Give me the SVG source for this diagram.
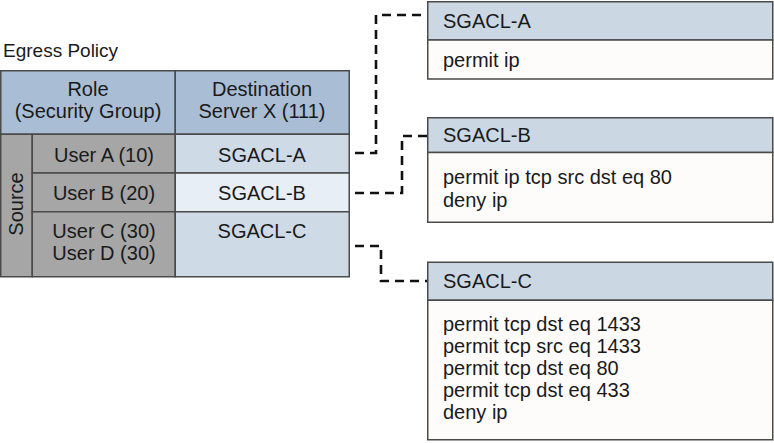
<svg xmlns="http://www.w3.org/2000/svg" width="774" height="443" viewBox="0 0 774 443">
<style>
text{font-family:"Liberation Sans",Arial,sans-serif;font-size:20px;fill:#1a1a1a}
.c{text-anchor:middle}
.b{stroke:#4a4a4a;stroke-width:1.5}
.conn{fill:none;stroke:#111;stroke-width:2.6;stroke-dasharray:9 6}
</style>
<rect width="774" height="443" fill="#fff"/>
<g id="table">
<text x="3" y="57" style="font-size:19px">Egress Policy</text>
<rect class="b" x="0.75" y="70.75" width="174.5" height="63.5" fill="#a9bed5"/>
<rect class="b" x="175.25" y="70.75" width="174" height="63.5" fill="#a9bed5"/>
<rect class="b" x="0.75" y="134.25" width="31.5" height="142.5" fill="#a6a6a6"/>
<rect class="b" x="32.25" y="134.25" width="143" height="38.75" fill="#a6a6a6"/>
<rect class="b" x="32.25" y="173" width="143" height="38.75" fill="#a6a6a6"/>
<rect class="b" x="32.25" y="211.75" width="143" height="65" fill="#a6a6a6"/>
<rect class="b" x="175.25" y="134.25" width="174" height="38.75" fill="#cedae6"/>
<rect class="b" x="175.25" y="173" width="174" height="38.75" fill="#e8eef5"/>
<rect class="b" x="175.25" y="211.75" width="174" height="65" fill="#cedae6"/>
<text class="c" x="88" y="96">Role</text>
<text class="c" x="88" y="118">(Security Group)</text>
<text class="c" x="262" y="96">Destination</text>
<text class="c" x="262" y="118">Server X (111)</text>
<text class="c" x="16" y="204" transform="rotate(-90 16 204)" dy="7">Source</text>
<text class="c" x="104" y="162">User A (10)</text>
<text class="c" x="104" y="200">User B (20)</text>
<text class="c" x="104" y="238">User C (30)</text>
<text class="c" x="104" y="260">User D (30)</text>
<text class="c" x="262" y="162">SGACL-A</text>
<text class="c" x="262" y="200">SGACL-B</text>
<text class="c" x="262" y="238">SGACL-C</text>
</g>
<g id="connectors">
<path class="conn" d="M355 153 H376 V15 H427"/>
<path class="conn" d="M355 193 H402 V136 H427"/>
<path class="conn" d="M355 246 H381 V281 H427"/>
</g>
<g id="sgacl-a">
<rect class="b" x="427.75" y="1.75" width="345" height="38.25" fill="#cbd8e4"/>
<rect class="b" x="427.75" y="40" width="345" height="39" fill="#fdfcfa"/>
<text x="443" y="28">SGACL-A</text>
<text x="443" y="67">permit ip</text>
</g>
<g id="sgacl-b">
<rect class="b" x="427.75" y="117.75" width="345" height="34.75" fill="#cbd8e4"/>
<rect class="b" x="427.75" y="152.5" width="345" height="69.75" fill="#fdfcfa"/>
<text x="443" y="142">SGACL-B</text>
<text x="443" y="184">permit ip tcp src dst eq 80</text>
<text x="443" y="207">deny ip</text>
</g>
<g id="sgacl-c">
<rect class="b" x="427.75" y="262.25" width="345" height="38" fill="#cbd8e4"/>
<rect class="b" x="427.75" y="300.25" width="345" height="139.5" fill="#fdfcfa"/>
<text x="443" y="288">SGACL-C</text>
<text x="443" y="331">permit tcp dst eq 1433</text>
<text x="443" y="353">permit tcp src eq 1433</text>
<text x="443" y="375">permit tcp dst eq 80</text>
<text x="443" y="397">permit tcp dst eq 433</text>
<text x="443" y="419">deny ip</text>
</g>
</svg>
